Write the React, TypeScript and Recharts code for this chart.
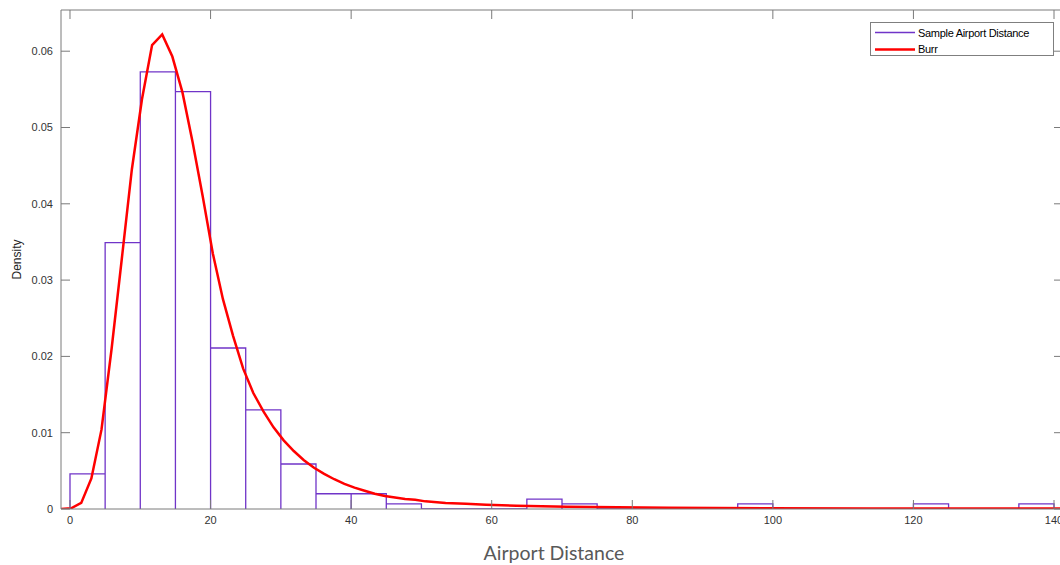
import React from 'react';
import { ComposedChart, Line, XAxis, YAxis, Legend } from 'recharts';

// histogram bins (width 5) and their densities
const binEdges = [0, 5, 10, 15, 20, 25, 30, 35, 40, 45, 50, 55, 60, 65, 70, 75, 80, 85, 90, 95, 100, 105, 110, 115, 120, 125, 130, 135, 140];
const binDensity = [
  0.0046, 0.0349, 0.0573, 0.0547, 0.0211, 0.013, 0.0059, 0.002, 0.002, 0.00066,
  0, 0, 0, 0.0013, 0.00066, 0, 0, 0, 0, 0.00066,
  0, 0, 0, 0, 0.00066, 0, 0, 0.00066,
];

// fitted Burr pdf
const burrX = [
  -1.28, 0.16, 1.6, 3.04, 4.48, 5.92, 7.36, 8.8, 10.24, 11.68, 13.12, 14.56, 16.0, 17.44, 18.88, 20.32,
  21.76, 23.2, 24.64, 26.08, 27.52, 28.96, 30.4, 31.84, 33.28, 34.72, 36.16, 37.6, 39.04, 40.48, 41.92,
  43.36, 44.8, 46.24, 47.68, 49.12, 50.56, 53.44, 56.32, 59.2, 63.52, 70.72, 77.92, 85.12, 99.52, 113.92,
  128.32, 141.28,
];
const burrDensity = [
  0, 0.0001, 0.0008, 0.004, 0.0104, 0.021, 0.0327, 0.0445, 0.0537, 0.0608, 0.0622, 0.0593, 0.0546, 0.0481,
  0.041, 0.0335, 0.0275, 0.0227, 0.0184, 0.0152, 0.0128, 0.0107, 0.009, 0.0076, 0.0064, 0.0054, 0.0046,
  0.0039, 0.0033, 0.0028, 0.0024, 0.002, 0.0017, 0.0015, 0.0013, 0.0012, 0.001, 0.0008, 0.00068, 0.00056,
  0.00042, 0.0003, 0.00022, 0.00017, 0.00011, 0.00008, 0.00006, 0.00005,
];

const xTicks = [0, 20, 40, 60, 80, 100, 120, 140];
const yTicks = [0, 0.01, 0.02, 0.03, 0.04, 0.05, 0.06];
const legendOrder = ['Sample Airport Distance', 'Burr'];

const xDomain: [number, number] = [-1.28, 141.28];
const yDomain: [number, number] = [0, 0.0654];

// outline of each bar: up, across, down
const histOutline = binDensity.flatMap((h, i) => [
  { x: binEdges[i], y: 0 },
  { x: binEdges[i], y: h },
  { x: binEdges[i + 1], y: h },
  { x: binEdges[i + 1], y: 0 },
]);
const burrData = burrX.map((x, i) => ({ x, y: burrDensity[i] }));

const axisColor = '#7a7a7a';
const tickStyle = { fill: '#333', fontSize: 11, fontFamily: 'Liberation Sans, Arial, sans-serif' };
const noLabel = () => <text />;

const renderLegend = (props: any) => {
  const items = [...(props.payload || [])].sort(
    (a: any, b: any) => legendOrder.indexOf(a.value) - legendOrder.indexOf(b.value),
  );
  return (
    <div
      style={{
        width: 184,
        height: 34,
        boxSizing: 'border-box',
        border: '1px solid #7f7f7f',
        background: '#fff',
        position: 'relative',
        fontFamily: 'Liberation Sans, Arial, sans-serif',
        fontSize: 11,
        color: '#000',
      }}
    >
      {items.map((entry: any, i: number) => (
        <div
          key={entry.value}
          style={{ position: 'absolute', left: 3, top: 2 + i * 16.5, height: 15, display: 'flex', alignItems: 'center' }}
        >
          <svg width={42} height={15}>
            <line
              x1={1}
              x2={41}
              y1={7.5}
              y2={7.5}
              stroke={entry.color}
              strokeWidth={entry.value === 'Burr' ? 2.5 : 1.3}
            />
          </svg>
          <span style={{ marginLeft: 2, letterSpacing: -0.3, whiteSpace: 'nowrap' }}>{entry.value}</span>
        </div>
      ))}
    </div>
  );
};

export default function App() {
  return (
    <div style={{ position: 'fixed', left: 0, top: 0, width: 1060, height: 565, overflow: 'hidden', background: '#fff' }}>
      <ComposedChart width={1064} height={565} margin={{ top: 0, right: 0, bottom: 0, left: 0 }}>
        <XAxis
          dataKey="x"
          type="number"
          domain={xDomain}
          allowDataOverflow
          ticks={xTicks}
          tickSize={-9}
          tickMargin={16}
          height={56}
          stroke={axisColor}
          tick={tickStyle}
          label={{
            value: 'Airport Distance',
            position: 'insideBottom',
            offset: 5,
            dx: -8,
            fill: '#595959',
            fontSize: 19.5,
            fontFamily: 'Lato, Open Sans, sans-serif',
          }}
        />
        <XAxis
          xAxisId="top"
          orientation="top"
          dataKey="x"
          type="number"
          domain={xDomain}
          allowDataOverflow
          ticks={xTicks}
          tickSize={-9}
          height={10}
          stroke={axisColor}
          tick={noLabel}
        />
        <YAxis
          type="number"
          domain={yDomain}
          allowDataOverflow
          ticks={yTicks}
          tickSize={-9}
          tickMargin={17}
          width={61}
          stroke={axisColor}
          tick={tickStyle}
          label={{
            value: 'Density',
            angle: -90,
            position: 'insideLeft',
            offset: 17,
            fill: '#262626',
            fontSize: 12,
            fontFamily: 'Liberation Sans, Arial, sans-serif',
            style: { textAnchor: 'middle' },
          }}
        />
        <YAxis
          yAxisId="right"
          orientation="right"
          type="number"
          domain={yDomain}
          allowDataOverflow
          ticks={yTicks}
          tickSize={-9}
          width={1}
          stroke={axisColor}
          tick={noLabel}
        />
        <Legend
          layout="horizontal"
          align="center"
          verticalAlign="middle"
          content={renderLegend}
          wrapperStyle={{ left: 870, top: 22, width: 184, height: 34 }}
        />
        <Line
          data={histOutline}
          dataKey="y"
          name="Sample Airport Distance"
          type="linear"
          stroke="#7034c8"
          strokeWidth={1.3}
          dot={false}
          activeDot={false}
          isAnimationActive={false}
        />
        <Line
          data={burrData}
          dataKey="y"
          name="Burr"
          type="linear"
          stroke="#ff0000"
          strokeWidth={2.5}
          dot={false}
          activeDot={false}
          isAnimationActive={false}
        />
      </ComposedChart>
    </div>
  );
}
